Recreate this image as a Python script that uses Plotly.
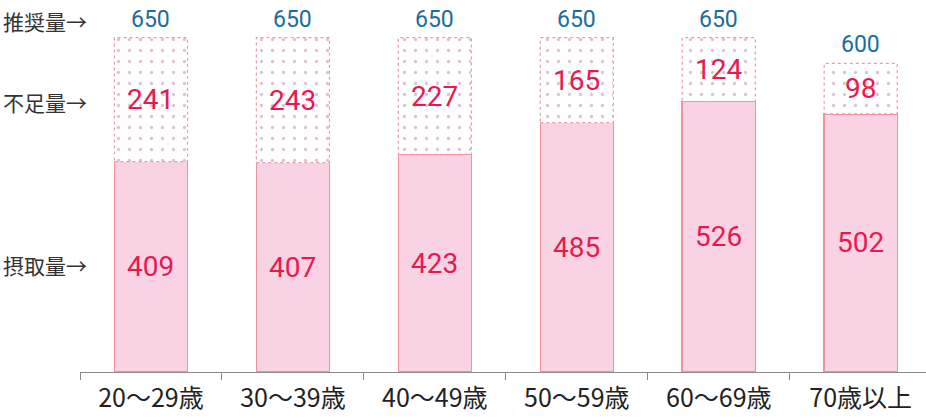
import plotly.graph_objects as go

categories = ["20～29歳", "30～39歳", "40～49歳", "50～59歳", "60～69歳", "70歳以上"]
intake = [409, 407, 423, 485, 526, 502]
shortfall = [241, 243, 227, 165, 124, 98]
recommended = [650, 650, 650, 650, 650, 600]
row_labels = ["推奨量→", "不足量→", "摂取量→"]

BAR_W = 0.515
NUM_FONT = "Roboto, Arial, sans-serif"
JP_FONT = "Noto Sans CJK JP, sans-serif"

fig = go.Figure()
fig.add_trace(go.Bar(
    x=categories, y=intake, width=BAR_W,
    marker=dict(color="#F9D3E3", line=dict(color="#F0939D", width=1.5)),
    hoverinfo="skip",
))
fig.add_trace(go.Bar(
    x=categories, y=shortfall, width=BAR_W,
    marker=dict(color="white", line=dict(width=0),
                pattern=dict(shape=".", size=11, solidity=0.07,
                             fgcolor="#BF86AA", bgcolor="white", fillmode="overlay")),
    hoverinfo="skip",
))

shapes = []
annotations = []
for i, c in enumerate(categories):
    shapes.append(dict(type="rect", xref="x", yref="y",
                       x0=i - BAR_W / 2, x1=i + BAR_W / 2,
                       y0=intake[i], y1=intake[i] + shortfall[i],
                       line=dict(color="#F09AA6", width=1.2, dash="dot"),
                       fillcolor="rgba(0,0,0,0)", layer="above"))
    annotations.append(dict(x=c, y=intake[i] / 2, text=str(intake[i]), showarrow=False,
                            font=dict(family=NUM_FONT, size=28, color="#E8194F")))
    annotations.append(dict(x=c, y=intake[i] + shortfall[i] / 2, text=str(shortfall[i]),
                            showarrow=False,
                            font=dict(family=NUM_FONT, size=28, color="#E8194F")))
    annotations.append(dict(x=c, y=recommended[i], text=str(recommended[i]), showarrow=False,
                            yanchor="bottom", yshift=3,
                            font=dict(family=NUM_FONT, size=23, color="#1A6E9C")))

row_y = [recommended[0], intake[0] + shortfall[0] / 2, intake[0] / 2]
row_shift = [17, -2, 2]
for lab, yv, ys in zip(row_labels, row_y, row_shift):
    annotations.append(dict(xref="paper", x=0, xanchor="left", xshift=-79,
                            y=yv, yref="y", yshift=ys,
                            text=lab, showarrow=False,
                            font=dict(family=JP_FONT, size=21, color="#333333")))

fig.update_layout(
    barmode="stack",
    width=926, height=418,
    margin=dict(l=80, r=0, t=12, b=46, autoexpand=False),
    paper_bgcolor="white", plot_bgcolor="white",
    showlegend=False,
    shapes=shapes, annotations=annotations,
    xaxis=dict(type="category", range=[-0.5, 5.46], showline=True, linecolor="#8A8A8A",
               linewidth=1, ticks="outside", tickson="boundaries", ticklen=7,
               tickcolor="#8A8A8A", showgrid=False, automargin=False,
               ticklabelstandoff=4,
               tickfont=dict(family=JP_FONT, size=25, color="#222222")),
    yaxis=dict(range=[0, 700], visible=False, showgrid=False, automargin=False),
)

fig.write_html("out.html", config={"displayModeBar": False, "staticPlot": True},
               post_script="document.body.style.margin='0';document.body.style.overflow='hidden';")
